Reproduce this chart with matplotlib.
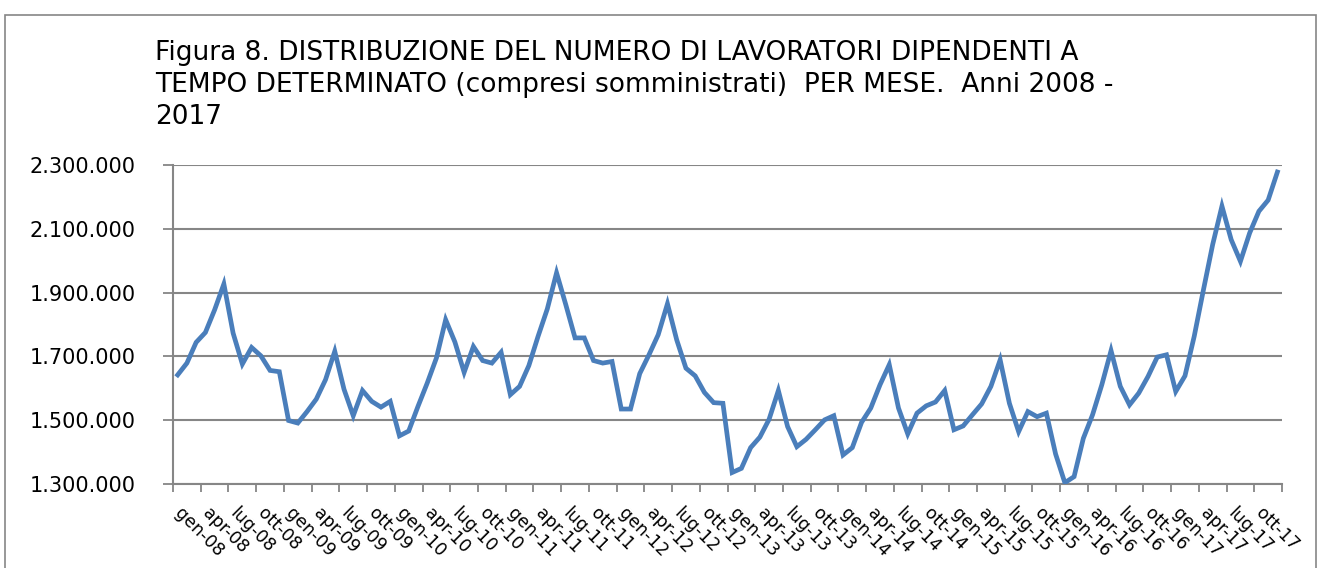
import matplotlib
matplotlib.use("Agg")
import matplotlib.pyplot as plt
import matplotlib.ticker as ticker
from matplotlib.patches import Rectangle

# ================= dati =================
# lavoratori dipendenti a tempo determinato, gen-08 ... dic-17
valori = [
    1642000, 1679000, 1744000, 1775000, 1846000, 1927000, 1773000, 1676000, 1728000, 1702000, 1656000, 1652000,
    1499000, 1491000, 1527000, 1566000, 1627000, 1716000, 1597000, 1514000, 1593000, 1559000, 1541000, 1559000,
    1451000, 1466000, 1543000, 1616000, 1695000, 1815000, 1745000, 1650000, 1731000, 1687000, 1679000, 1713000,
    1580000, 1606000, 1671000, 1763000, 1849000, 1962000, 1862000, 1758000, 1758000, 1687000, 1679000, 1684000,
    1535000, 1535000, 1646000, 1705000, 1768000, 1865000, 1752000, 1663000, 1639000, 1587000, 1555000, 1553000,
    1336000, 1349000, 1414000, 1447000, 1503000, 1593000, 1480000, 1417000, 1440000, 1470000, 1501000, 1514000,
    1391000, 1414000, 1493000, 1538000, 1611000, 1674000, 1538000, 1457000, 1522000, 1545000, 1557000, 1593000,
    1470000, 1482000, 1517000, 1551000, 1606000, 1689000, 1553000, 1464000, 1527000, 1511000, 1522000, 1394000,
    1304000, 1323000, 1443000, 1517000, 1611000, 1718000, 1606000, 1548000, 1585000, 1637000, 1698000, 1705000,
    1590000, 1639000, 1763000, 1909000, 2051000, 2171000, 2066000, 1998000, 2087000, 2155000, 2190000, 2278000,
]
mesi_etichetta = ["gen", "apr", "lug", "ott"]
anni = ["08", "09", "10", "11", "12", "13", "14", "15", "16", "17"]
etichette = [f"{m}-{a}" for a in anni for m in mesi_etichetta]
y_ticks = [1300000, 1500000, 1700000, 1900000, 2100000, 2300000]

titolo = ("Figura 8. DISTRIBUZIONE DEL NUMERO DI LAVORATORI DIPENDENTI A\n"
          "TEMPO DETERMINATO (compresi somministrati)  PER MESE.  Anni 2008 -\n"
          "2017")

GRIGIO = "#868686"
BLU = "#4a7ebb"

plt.rcParams['font.family'] = ['DejaVu Sans']

fig = plt.figure(figsize=(13.27, 5.68), dpi=100)
ax = fig.add_axes([0.1304, 0.1479, 0.9661 - 0.1304, 0.7095 - 0.1479])

# cornice del grafico
fig.patches.append(Rectangle((5 / 1327, -0.05), 1311 / 1327, 1 - 15 / 568 + 0.05,
                             transform=fig.transFigure, fill=False,
                             edgecolor=GRIGIO, linewidth=1.2))

x = list(range(len(valori)))
ax.plot(x, valori, color=BLU, linewidth=3.4, solid_joinstyle='miter', zorder=3)

ax.set_xlim(-0.5, len(valori) - 0.5)
ax.set_ylim(1300000, 2300000)
ax.set_yticks(y_ticks)
ax.yaxis.set_major_formatter(ticker.FuncFormatter(lambda v, p: f"{v:,.0f}".replace(",", ".")))
ax.grid(True, axis='y', color=GRIGIO, linewidth=1.5, zorder=1)

# tacche ogni 3 mesi tra le categorie, etichette sulle categorie
ax.set_xticks([i - 0.5 for i in range(0, len(valori) + 1, 3)])
ax.set_xticklabels([])
ax.set_xticks(list(range(0, len(valori), 3)), minor=True)
ax.set_xticklabels(etichette, minor=True, rotation=-45, ha='left', va='center',
                   rotation_mode='anchor', fontsize=12.5)
ax.tick_params(axis='x', which='minor', length=0, pad=19)
ax.tick_params(axis='x', which='major', length=6, width=1.3, color=GRIGIO, direction='out')
ax.tick_params(axis='y', length=7, width=1.3, color=GRIGIO, labelsize=15, pad=20)

for s in ('top', 'right'):
    ax.spines[s].set_visible(False)
for s in ('left', 'bottom'):
    ax.spines[s].set_color(GRIGIO)
    ax.spines[s].set_linewidth(1.5)

fig.text(155 / 1327, 1 - 40 / 568, titolo, fontsize=19, ha='left', va='top',
         linespacing=1.3)

plt.savefig("out.png", dpi=100)
